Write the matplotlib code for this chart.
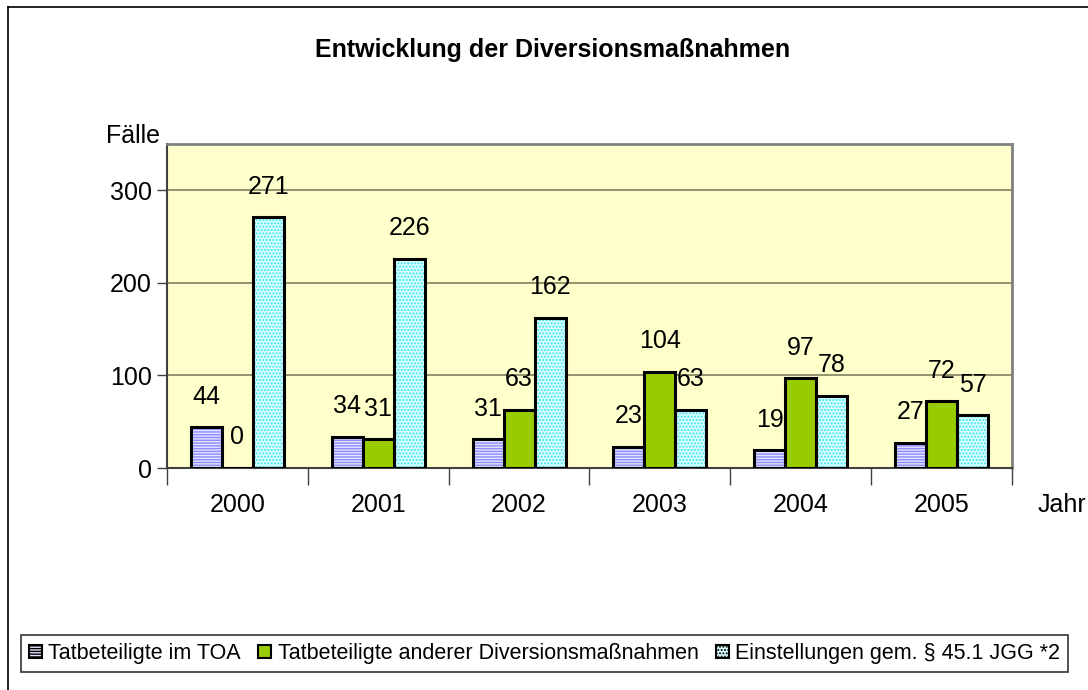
import numpy as np
import matplotlib.pyplot as plt
from matplotlib.patches import Patch
from matplotlib.lines import Line2D

plt.rcParams['font.family'] = ['Liberation Sans', 'DejaVu Sans']
plt.rcParams['hatch.linewidth'] = 1.0

jahre = ['2000', '2001', '2002', '2003', '2004', '2005']
toa = [44, 34, 31, 23, 19, 27]
andere = [0, 31, 63, 104, 97, 72]
einstellungen = [271, 226, 162, 63, 78, 57]
serien = ['Tatbeteiligte im TOA', 'Tatbeteiligte anderer Diversionsmaßnahmen',
          'Einstellungen gem. § 45.1 JGG *2']

farben = ['#E4E4FF', '#99CC00', '#D8FFFF']
hatchfarben = ['#8C8CFF', '#99CC00', '#40E0F0']
hatches = ['------', None, '.....']

fig = plt.figure(figsize=(10.88, 6.9), dpi=100)
ax = fig.add_axes([167/1088, 1-468/690, (1012-167)/1088, (468-144)/690])
ax.set_facecolor('#FFFFCC')

x = np.arange(len(jahre))
w = 0.22
for i, werte in enumerate([toa, andere, einstellungen]):
    pos = x + (i-1)*w
    if hatches[i]:
        ax.bar(pos, werte, w, color=farben[i], edgecolor=hatchfarben[i],
               hatch=hatches[i], linewidth=0, zorder=2)
        ax.bar(pos, werte, w, fill=False, edgecolor='black', linewidth=2.2, zorder=3)
    else:
        ax.bar(pos, werte, w, color=farben[i], edgecolor='black', linewidth=2.2, zorder=3)
    for px, v in zip(pos, werte):
        ax.text(px, v + 33, str(v), ha='center', va='center', fontsize=18, zorder=4)

ax.set_xlim(-0.5, len(jahre)-0.5)
ax.set_ylim(0, 350)
ax.set_yticks([0, 100, 200, 300])
ax.set_yticklabels(['0', '100', '200', '300'], fontsize=18)
ax.yaxis.grid(True, color='#808060', linewidth=1.2, zorder=1)
ax.set_axisbelow(True)

ax.set_xticks(x)
ax.set_xticklabels(jahre, fontsize=18)
ax.tick_params(axis='x', length=0, pad=18)
ax.set_xticks(np.arange(-0.5, len(jahre)), minor=True)
ax.tick_params(axis='x', which='minor', length=12, width=1, color='#404040', direction='out')
ax.tick_params(axis='y', length=7, width=1, color='#404040', direction='out', pad=4)

ax.spines['left'].set_color('#404040')
ax.spines['left'].set_linewidth(1.5)
ax.spines['bottom'].set_color('#404040')
ax.spines['bottom'].set_linewidth(1.5)
ax.spines['top'].set_color('#808080')
ax.spines['top'].set_linewidth(2)
ax.spines['right'].set_color('#808080')
ax.spines['right'].set_linewidth(2)

fig.text(553/1088, 1-50/690, 'Entwicklung der Diversionsmaßnahmen', ha='center', va='center',
         fontsize=18, fontweight='bold')
fig.text(160/1088, 1-136/690, 'Fälle', ha='right', va='center', fontsize=18)
fig.text(1086/1088, 1-505/690, 'Jahr', ha='right', va='center', fontsize=18)

# Rahmen
fig.add_artist(Line2D([8/1088, 8/1088], [0, 1-7/690], color='black', linewidth=1.2))
fig.add_artist(Line2D([8/1088, 1], [1-7/690, 1-7/690], color='black', linewidth=1.2))

handles = []
for i in range(3):
    handles.append(Patch(facecolor=farben[i], edgecolor='black', hatch=hatches[i], linewidth=1.5))
leg = fig.legend(handles, serien, loc='center', ncol=3, bbox_to_anchor=(544.5/1088, 1-653.5/690),
                 fontsize=15.5, frameon=True, fancybox=False, edgecolor='black',
                 handlelength=0.6, handleheight=0.6, handletextpad=0.3, columnspacing=0.8,
                 borderpad=0.35)
leg.get_frame().set_linewidth(1.2)

fig.savefig('out.png', dpi=100)
